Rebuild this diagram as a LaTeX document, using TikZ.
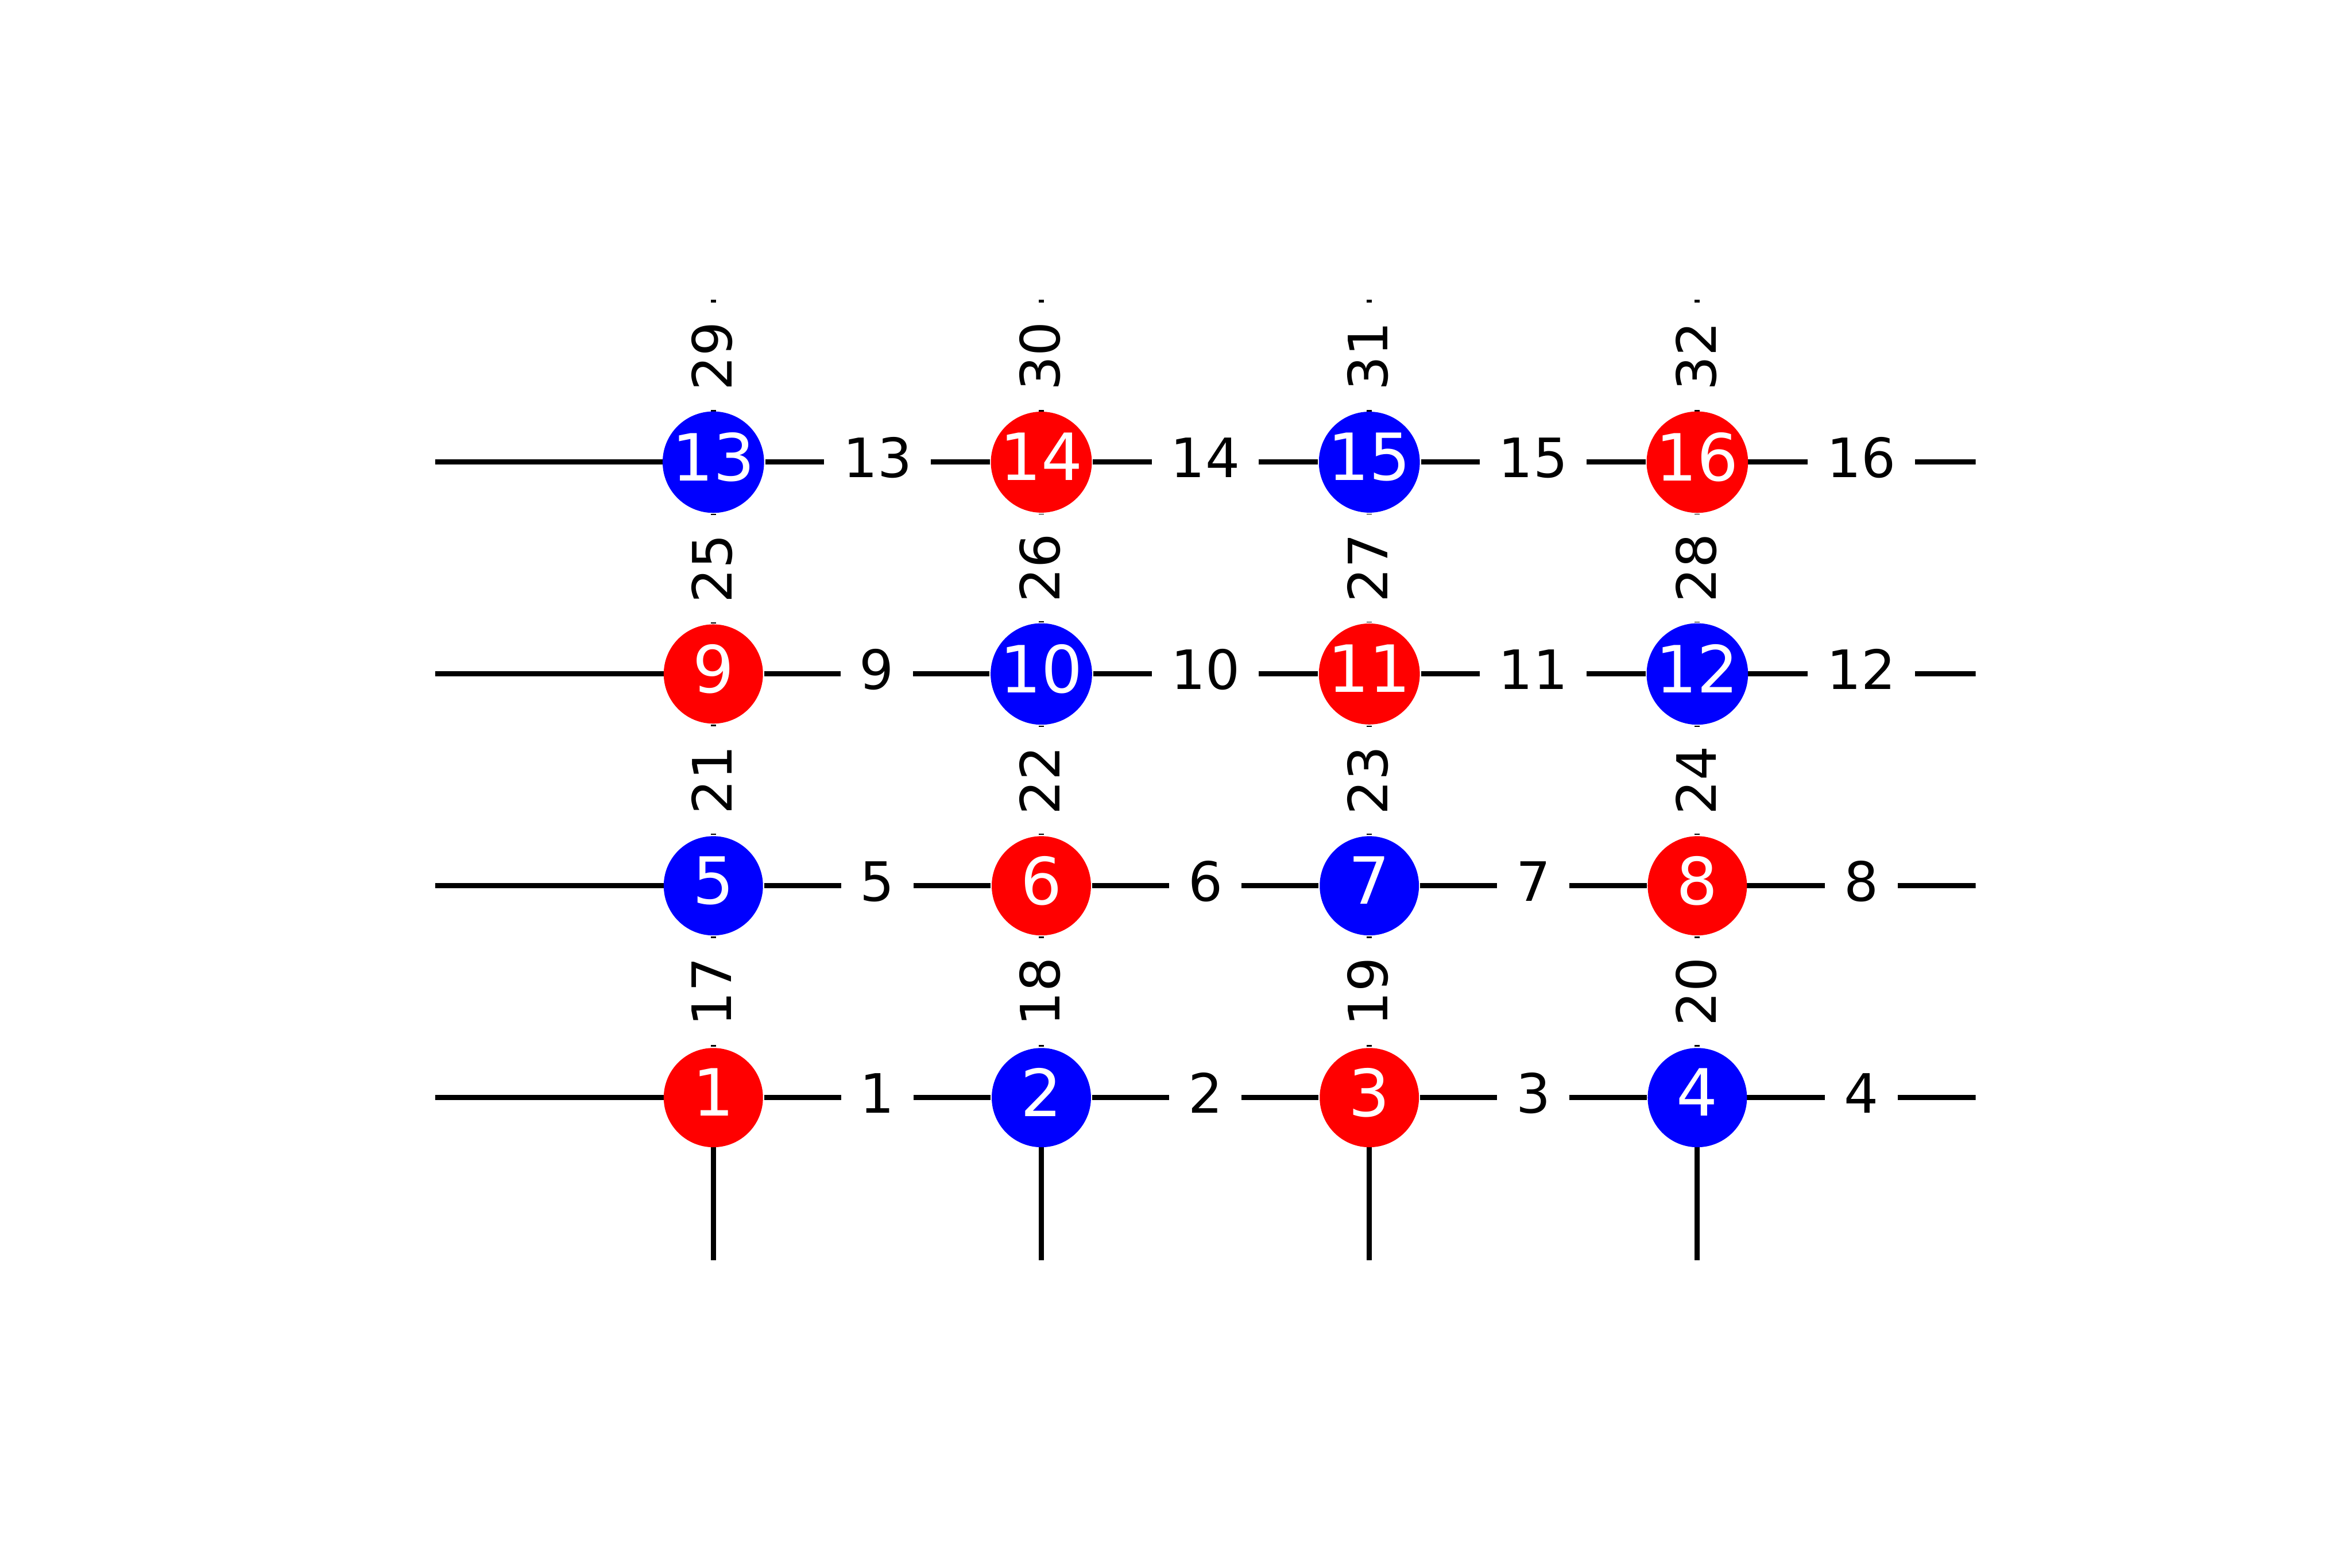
\documentclass[tikz,border=0pt]{standalone}
\usepackage{fontspec}
\setmainfont{DejaVu Sans}
\usetikzlibrary{backgrounds}

\begin{document}
\begin{tikzpicture}[x=2.1252cm,y=1.3726cm,
    site/.style={circle,inner sep=0pt,minimum size=18.3pt,text=white,
                 font=\fontsize{12}{14}\selectfont,text depth=2pt},
    rsite/.style={site,fill=red},
    bsite/.style={site,fill=blue},
    bond/.style={draw=black,line width=0.96pt},
    lbl/.style={fill=white,inner sep=3.5pt,text=black,
                font=\fontsize{10}{12}\selectfont,text depth=1.7pt},
    vlbl/.style={lbl,rotate=90,text depth=0.6pt}
  ]
  \useasboundingbox (-2.1749,-2.2200) rectangle (4.9961,5.1819);
  \node[rsite] (n1) at (0,0) {1};
  \node[bsite] (n2) at (1,0) {2};
  \node[rsite] (n3) at (2,0) {3};
  \node[bsite] (n4) at (3,0) {4};
  \node[bsite] (n5) at (0,1) {5};
  \node[rsite] (n6) at (1,1) {6};
  \node[bsite] (n7) at (2,1) {7};
  \node[rsite] (n8) at (3,1) {8};
  \node[rsite] (n9) at (0,2) {9};
  \node[bsite] (n10) at (1,2) {10};
  \node[rsite] (n11) at (2,2) {11};
  \node[bsite] (n12) at (3,2) {12};
  \node[bsite] (n13) at (0,3) {13};
  \node[rsite] (n14) at (1,3) {14};
  \node[bsite] (n15) at (2,3) {15};
  \node[rsite] (n16) at (3,3) {16};
  % open ends, cut off by the plot window
  \coordinate (w1) at (-1,0); \coordinate (e1) at (4,0);
  \coordinate (w2) at (-1,1); \coordinate (e2) at (4,1);
  \coordinate (w3) at (-1,2); \coordinate (e3) at (4,2);
  \coordinate (w4) at (-1,3); \coordinate (e4) at (4,3);
  \coordinate (s1) at (0,-1); \coordinate (t1) at (0,4);
  \coordinate (s2) at (1,-1); \coordinate (t2) at (1,4);
  \coordinate (s3) at (2,-1); \coordinate (t3) at (2,4);
  \coordinate (s4) at (3,-1); \coordinate (t4) at (3,4);
  \begin{scope}[on background layer]
    \clip (-0.8482,-0.7655) rectangle (3.8488,3.7663);
    \draw[bond] (w1) -- (n1.center);
    \draw[bond] (w2) -- (n5.center);
    \draw[bond] (w3) -- (n9.center);
    \draw[bond] (w4) -- (n13.center);
    \draw[bond] (s1) -- (n1.center);
    \draw[bond] (s2) -- (n2.center);
    \draw[bond] (s3) -- (n3.center);
    \draw[bond] (s4) -- (n4.center);
    \draw[bond] (n1) -- (n2) node[midway,lbl]{1};
    \draw[bond] (n2) -- (n3) node[midway,lbl]{2};
    \draw[bond] (n3) -- (n4) node[midway,lbl]{3};
    \draw[bond] (n4.center) -- (e1) node[midway,lbl]{4};
    \draw[bond] (n5) -- (n6) node[midway,lbl]{5};
    \draw[bond] (n6) -- (n7) node[midway,lbl]{6};
    \draw[bond] (n7) -- (n8) node[midway,lbl]{7};
    \draw[bond] (n8.center) -- (e2) node[midway,lbl]{8};
    \draw[bond] (n9) -- (n10) node[midway,lbl]{9};
    \draw[bond] (n10) -- (n11) node[midway,lbl]{10};
    \draw[bond] (n11) -- (n12) node[midway,lbl]{11};
    \draw[bond] (n12.center) -- (e3) node[midway,lbl]{12};
    \draw[bond] (n13) -- (n14) node[midway,lbl]{13};
    \draw[bond] (n14) -- (n15) node[midway,lbl]{14};
    \draw[bond] (n15) -- (n16) node[midway,lbl]{15};
    \draw[bond] (n16.center) -- (e4) node[midway,lbl]{16};
    \draw[bond] (n1) -- (n5) node[midway,vlbl]{17};
    \draw[bond] (n2) -- (n6) node[midway,vlbl]{18};
    \draw[bond] (n3) -- (n7) node[midway,vlbl]{19};
    \draw[bond] (n4) -- (n8) node[midway,vlbl]{20};
    \draw[bond] (n5) -- (n9) node[midway,vlbl]{21};
    \draw[bond] (n6) -- (n10) node[midway,vlbl]{22};
    \draw[bond] (n7) -- (n11) node[midway,vlbl]{23};
    \draw[bond] (n8) -- (n12) node[midway,vlbl]{24};
    \draw[bond] (n9) -- (n13) node[midway,vlbl]{25};
    \draw[bond] (n10) -- (n14) node[midway,vlbl]{26};
    \draw[bond] (n11) -- (n15) node[midway,vlbl]{27};
    \draw[bond] (n12) -- (n16) node[midway,vlbl]{28};
    \draw[bond] (n13.center) -- (t1) node[midway,vlbl]{29};
    \draw[bond] (n14.center) -- (t2) node[midway,vlbl]{30};
    \draw[bond] (n15.center) -- (t3) node[midway,vlbl]{31};
    \draw[bond] (n16.center) -- (t4) node[midway,vlbl]{32};
  \end{scope}
\end{tikzpicture}
\end{document}
